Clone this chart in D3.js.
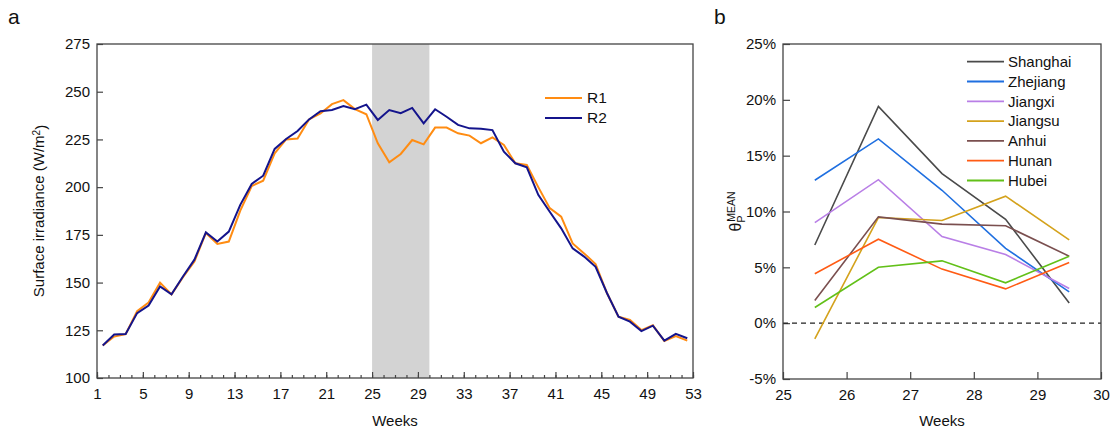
<!DOCTYPE html>
<html>
<head>
<meta charset="utf-8">
<script src="https://cdn.jsdelivr.net/npm/d3@7"></script>
<style>
  body { margin: 0; background: #fff; }
  svg { font-family: "Liberation Sans", Arial, sans-serif; }
  .axis text { font-size: 15px; fill: #111; }
  .axis line { stroke: #444; stroke-width: 1.2; }
  .axis path { display: none; }
</style>
</head>
<body>
<svg width="1117" height="434"></svg>
<script>
// panel a data
var weeks = [1,2,3,4,5,6,7,8,9,10,11,12,13,14,15,16,17,18,19,20,21,22,23,24,25,26,
             27,28,29,30,31,32,33,34,35,36,37,38,39,40,41,42,43,44,45,46,47,48,49,50,51,52];
var r1 = [117,121.7,123,135,139.5,150,143.8,152.8,161,176,170.2,171.5,187.7,200.6,203.4,217.7,
          225,225.5,235.5,238.6,243.5,245.6,240.9,238.2,223,213,217.4,224.7,222.4,231.2,231.2,228.2,
          227,223,226.1,222.1,212.5,211.6,200,189,184.5,170.5,165.3,159.7,144.4,132.1,130.4,125.1,
          127.6,119.4,122,119.6];
var r2 = [117,122.8,123,134,138,148,143.8,153.2,162,176.3,171.5,176.7,190.7,201.7,206,220,
          225.2,229.4,235.5,239.8,240.4,242.5,240.8,243.2,235.2,240.4,238.7,241.5,233.4,240.8,236.9,232.6,
          230.8,230.6,229.9,218.6,212.5,210.4,196,187.1,178.4,167.9,163.6,158.3,144.4,132.1,129.5,124.6,
          127.4,119.6,123.1,120.8];
var shadeWeeks = [25, 30];
var yTicksA = [100,125,150,175,200,225,250,275];
var xTicksA = [1,5,9,13,17,21,25,29,33,37,41,45,49,53];

// panel b data
var weeksB = [25.5, 26.5, 27.5, 28.5, 29.5];
var provinces = ["Shanghai","Zhejiang","Jiangxi","Jiangsu","Anhui","Hunan","Hubei"];
var shanghai = [7.0, 19.4, 13.4, 9.3, 1.8];
var zhejiang = [12.8, 16.5, 11.9, 6.7, 2.8];
var jiangxi  = [9.0, 12.85, 7.76, 6.15, 3.1];
var jiangsu  = [-1.4, 9.46, 9.2, 11.37, 7.46];
var anhui    = [2.03, 9.52, 8.87, 8.72, 6.0];
var hunan    = [4.42, 7.52, 4.84, 3.07, 5.43];
var hubei    = [1.4, 5.01, 5.58, 3.61, 6.0];
var yTicksB = [-5,0,5,10,15,20,25];
var xTicksB = [25,26,27,28,29,30];

var svg = d3.select("svg");

// ---------- panel a ----------
var a = {left: 97, right: 693, top: 44, bottom: 378};
var x = d3.scaleLinear().domain([1, 53]).range([a.left, a.right]);
var y = d3.scaleLinear().domain([100, 275]).range([a.bottom, a.top]);

svg.append("rect")
    .attr("x", x(shadeWeeks[0]))
    .attr("y", a.top)
    .attr("width", x(shadeWeeks[1]) - x(shadeWeeks[0]))
    .attr("height", a.bottom - a.top)
    .attr("fill", "#d3d3d3");

// minor ticks every week
svg.append("g")
    .attr("class", "axis")
    .attr("transform", "translate(0," + a.bottom + ")")
    .call(d3.axisBottom(x).tickValues(d3.range(1, 54)).tickSizeInner(-3).tickSizeOuter(0).tickFormat(""));

svg.append("g")
    .attr("class", "axis")
    .attr("transform", "translate(0," + a.bottom + ")")
    .call(d3.axisBottom(x).tickValues(xTicksA).tickSizeInner(-6).tickSizeOuter(0).tickPadding(10));

svg.append("g")
    .attr("class", "axis")
    .attr("transform", "translate(" + a.left + ",0)")
    .call(d3.axisLeft(y).tickValues(yTicksA).tickSizeInner(-6).tickSizeOuter(0).tickPadding(7));

var line = d3.line()
    .x(function(d, i) { return x(weeks[i] + 0.5); })
    .y(function(d) { return y(d); });

svg.append("path").datum(r1)
    .attr("fill", "none").attr("stroke", "#ff8c12").attr("stroke-width", 2)
    .attr("d", line);
svg.append("path").datum(r2)
    .attr("fill", "none").attr("stroke", "#14148c").attr("stroke-width", 2)
    .attr("d", line);

svg.append("rect")
    .attr("x", a.left).attr("y", a.top)
    .attr("width", a.right - a.left).attr("height", a.bottom - a.top)
    .attr("fill", "none").attr("stroke", "#444").attr("stroke-width", 1.3);

// legend a
var legA = [{name: "R1", color: "#ff8c12"}, {name: "R2", color: "#14148c"}];
var la = svg.append("g").selectAll("g").data(legA).enter().append("g")
    .attr("transform", function(d, i) { return "translate(545," + (98 + i * 20) + ")"; });
la.append("line").attr("x1", 0).attr("x2", 37)
    .attr("stroke", function(d) { return d.color; }).attr("stroke-width", 2);
la.append("text").attr("x", 42).attr("dy", "0.35em")
    .style("font-size", "15.5px").attr("fill", "#111")
    .text(function(d) { return d.name; });

svg.append("text")
    .attr("x", (a.left + a.right) / 2).attr("y", 426)
    .attr("text-anchor", "middle").style("font-size", "15px").attr("fill", "#111")
    .text("Weeks");

var ylab = svg.append("text")
    .attr("transform", "translate(44," + ((a.top + a.bottom) / 2) + ") rotate(-90)")
    .attr("text-anchor", "middle").style("font-size", "15px").attr("fill", "#111");
ylab.append("tspan").text("Surface irradiance (W/m");
ylab.append("tspan").attr("dy", "-0.45em").style("font-size", "10px").text("2");
ylab.append("tspan").attr("dy", "0.45em").text(")");

svg.append("text").attr("x", 8).attr("y", 24)
    .style("font-size", "21px").attr("fill", "#111").text("a");

// ---------- panel b ----------
var b = {left: 783, right: 1101, top: 44, bottom: 379};
var xb = d3.scaleLinear().domain([25, 30]).range([b.left, b.right]);
var yb = d3.scaleLinear().domain([-5, 25]).range([b.bottom, b.top]);

svg.append("g")
    .attr("class", "axis")
    .attr("transform", "translate(0," + b.bottom + ")")
    .call(d3.axisBottom(xb).tickValues(xTicksB).tickSizeInner(-7).tickSizeOuter(0).tickPadding(10)
      .tickFormat(d3.format("d")));

svg.append("g")
    .attr("class", "axis")
    .attr("transform", "translate(" + b.left + ",0)")
    .call(d3.axisLeft(yb).tickValues(yTicksB).tickSizeInner(-7).tickSizeOuter(0).tickPadding(7)
      .tickFormat(function(d) { return d + "%"; }));

svg.append("line")
    .attr("x1", b.left).attr("x2", b.right)
    .attr("y1", yb(0)).attr("y2", yb(0))
    .attr("stroke", "#222").attr("stroke-width", 1.1).attr("stroke-dasharray", "5,4");

var series = [
  {name: provinces[0], values: shanghai, color: "#4a4a4a"},
  {name: provinces[1], values: zhejiang, color: "#1f6fe0"},
  {name: provinces[2], values: jiangxi,  color: "#b97fe6"},
  {name: provinces[3], values: jiangsu,  color: "#d4a21c"},
  {name: provinces[4], values: anhui,    color: "#7a4f4f"},
  {name: provinces[5], values: hunan,    color: "#ff5b14"},
  {name: provinces[6], values: hubei,    color: "#62c018"}
];

var lineB = d3.line()
    .x(function(d, i) { return xb(weeksB[i]); })
    .y(function(d) { return yb(d); });

svg.append("g").selectAll("path").data(series).enter().append("path")
    .attr("fill", "none")
    .attr("stroke", function(d) { return d.color; })
    .attr("stroke-width", 1.6)
    .attr("d", function(d) { return lineB(d.values); });

svg.append("rect")
    .attr("x", b.left).attr("y", b.top)
    .attr("width", b.right - b.left).attr("height", b.bottom - b.top)
    .attr("fill", "none").attr("stroke", "#444").attr("stroke-width", 1.3);

var lb = svg.append("g").selectAll("g").data(series).enter().append("g")
    .attr("transform", function(d, i) { return "translate(967," + (61.7 + i * 19.8) + ")"; });
lb.append("line").attr("x1", 0).attr("x2", 37)
    .attr("stroke", function(d) { return d.color; }).attr("stroke-width", 1.8);
lb.append("text").attr("x", 41).attr("dy", "0.35em")
    .style("font-size", "15px").attr("fill", "#111")
    .text(function(d) { return d.name; });

svg.append("text")
    .attr("x", (b.left + b.right) / 2).attr("y", 426)
    .attr("text-anchor", "middle").style("font-size", "15px").attr("fill", "#111")
    .text("Weeks");

var ylabB = svg.append("text")
    .attr("transform", "translate(741," + ((b.top + b.bottom) / 2) + ") rotate(-90)")
    .attr("text-anchor", "middle").style("font-size", "16px").attr("fill", "#111");
ylabB.append("tspan").text("θ");
ylabB.append("tspan").attr("dy", "0.35em").style("font-size", "10.5px").text("P");
ylabB.append("tspan").attr("dx", "-0.6em").attr("dy", "-0.95em").style("font-size", "10.5px").text("MEAN");

svg.append("text").attr("x", 714).attr("y", 24)
    .style("font-size", "21px").attr("fill", "#111").text("b");
</script>
</body>
</html>
